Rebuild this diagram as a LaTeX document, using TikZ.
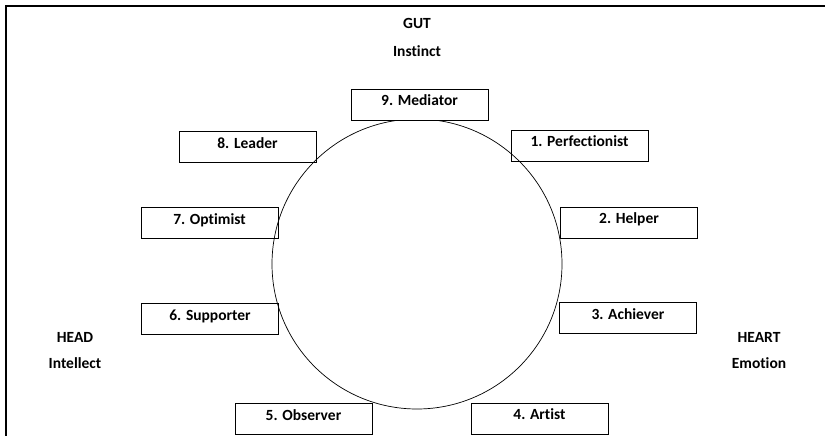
\documentclass[tikz,border=0pt]{standalone}
\usepackage{fontspec}
\setmainfont{Carlito}[Ligatures=NoCommon]
\usepackage{tikz}
\usetikzlibrary{positioning}

\begin{document}
\begin{tikzpicture}[x=1pt, y=-1pt,
    typebox/.style={draw, line width=0.8pt, minimum width=137pt, inner xsep=0pt,
                    inner ysep=3pt, text height=13.5pt, text depth=11.5pt,
                    font=\fontsize{15.5}{18}\selectfont\bfseries},
    centre/.style={font=\fontsize{15.5}{18}\selectfont\bfseries}]
    \useasboundingbox (0,0) rectangle (825,436);
    % frame
    \draw[line width=2pt] (6,436) -- (6,6.5) -- (825,6.5);
    % centres
    \node[centre] (gut) at (417,23) {GUT};
    \node[centre] (instinct) at (417,51) {Instinct};
    \node[centre] (head) at (75,337) {HEAD};
    \node[centre] (intellect) at (75,363) {Intellect};
    \node[centre] (heart) at (759,337) {HEART};
    \node[centre] (emotion) at (759,363) {Emotion};
    % circle
    \draw[line width=0.7pt] (417,264) circle (145);
    % types
    \node[typebox, fill=white] (mediator) at (419.5,105) {9. Mediator};
    \node[typebox] (perfectionist) at (579.5,145.5) {1. Perfectionist};
    \node[typebox] (leader) at (247.5,147) {8. Leader};
    \node[typebox] (optimist) at (209.5,223) {7. Optimist};
    \node[typebox] (helper) at (629,222.5) {2. Helper};
    \node[typebox] (supporter) at (210,319) {6. Supporter};
    \node[typebox] (achiever) at (628,318) {3. Achiever};
    \node[typebox] (observer) at (303.5,419) {5. Observer};
    \node[typebox] (artist) at (539.5,418.5) {4. Artist};
\end{tikzpicture}
\end{document}
